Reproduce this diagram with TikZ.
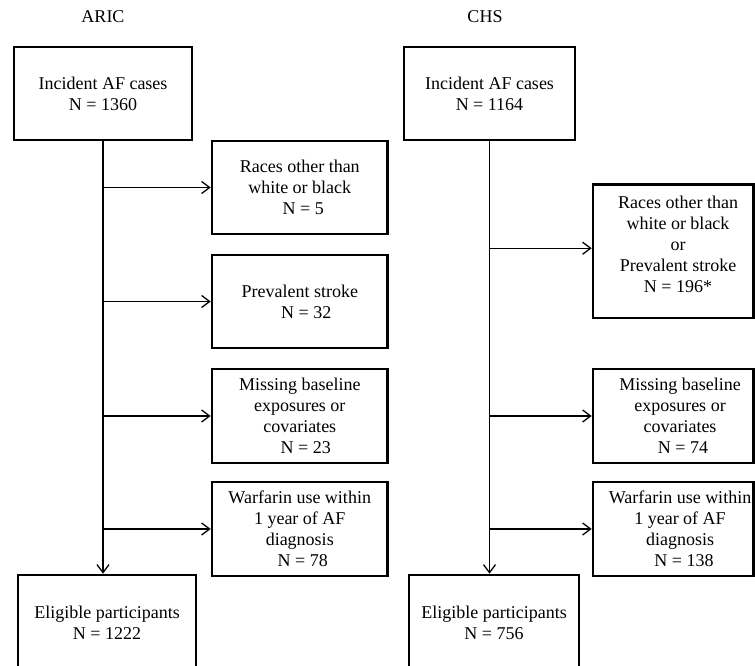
\documentclass[tikz,border=0pt]{standalone}
\usepackage{fontspec}
\setmainfont{Liberation Serif}
\usetikzlibrary{arrows.meta}
\begin{document}
\begin{tikzpicture}[x=1pt,y=-1pt,
  box/.style={draw, line width=2.6pt, align=center, inner sep=0pt, font=\fontsize{18}{21}\selectfont},
  txt/.style={align=center, inner sep=0pt, font=\fontsize{18}{21}\selectfont},
  conn/.style={line width=1.3pt},
  arr/.style={conn, -{Straight Barb[length=8pt,width=12pt,line width=1.3pt]}},
  ttl/.style={inner sep=0pt, font=\fontsize{18}{21}\selectfont}]
\useasboundingbox (0,0) rectangle (755,666);
\clip (0,0) rectangle (755,666);

% ARIC
\node[ttl] (aricT) at (103,17) {ARIC};
\node[box, minimum width=178pt, minimum height=93pt] (a0) at (103,93.5) {Incident AF cases\\N = 1360};
\node[box, minimum width=175.5pt, minimum height=93pt] (a1) at (299.75,187.5) {Races other than\\white or black\\\hspace*{7pt}N = 5};
\node[box, minimum width=175.5pt, minimum height=93pt] (a2) at (299.75,301.5) {Prevalent stroke\\\hspace*{13pt}N = 32};
\node[box, minimum width=175.5pt, minimum height=94pt] (a3) at (299.75,416) {Missing baseline\\exposures or\\covariates\\\hspace*{12pt}N = 23};
\node[box, minimum width=175.5pt, minimum height=94pt] (a4) at (299.75,529) {Warfarin use within\\1 year of AF\\diagnosis\\\hspace*{6pt}N = 78};
\node[box, minimum width=178pt, minimum height=96pt] (a5) at (107,623) {Eligible participants\\N = 1222};

\draw[arr] (a0.south) -- (a0.south |- a5.north);
\draw[arr] (a0.south |- a1.west) -- (a1.west);
\draw[arr] (a0.south |- a2.west) -- (a2.west);
\draw[arr] (a0.south |- a3.west) -- (a3.west);
\draw[arr] (a0.south |- a4.west) -- (a4.west);

% CHS
\node[ttl] (chsT) at (485,17) {CHS};
\node[box, minimum width=171pt, minimum height=93pt] (c0) at (489.5,93.5) {Incident AF cases\\N = 1164};
\node[box, minimum width=160.5pt, minimum height=133.5pt] (c1) at (673.25,251.25) {};
\node[txt] (c1t) at (678,244) {Races other than\\white or black\\or\\Prevalent stroke\\N = 196*};
\coordinate (c1in) at ([yshift=3pt]c1.west);
\node[box, minimum width=160.5pt, minimum height=94pt] (c2) at (673.25,416) {};
\node[txt] (c2t) at (680,416) {Missing baseline\\exposures or\\covariates\\\hspace*{6pt}N = 74};
\node[box, minimum width=160.5pt, minimum height=94pt] (c3) at (673.25,529) {};
\node[txt] (c3t) at (680,529) {Warfarin use within\\1 year of AF\\diagnosis\\\hspace*{8pt}N = 138};
\node[box, minimum width=170pt, minimum height=96pt] (c5) at (494,623) {Eligible participants\\N = 756};

\draw[arr] (c0.south) -- (c0.south |- c5.north);
\draw[arr] (c0.south |- c1in) -- (c1in);
\draw[arr] (c0.south |- c2.west) -- (c2.west);
\draw[arr] (c0.south |- c3.west) -- (c3.west);
\end{tikzpicture}
\end{document}
